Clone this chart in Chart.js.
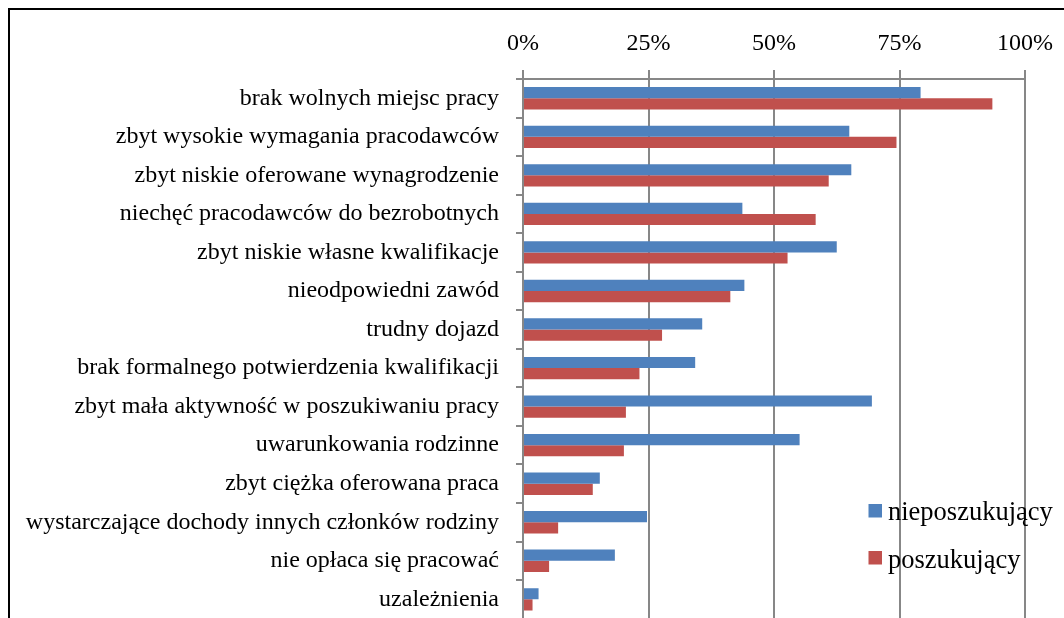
<!DOCTYPE html>
<html>
<head>
<meta charset="utf-8">
<script src="https://cdn.jsdelivr.net/npm/chart.js@4/dist/chart.umd.min.js"></script>
<style>
  html, body { margin: 0; padding: 0; background: #fff; overflow: hidden; width: 1064px; height: 618px; }
  #frame { position: absolute; left: 8px; top: 8px; width: 1060px; height: 700px; border: 2px solid #000; background: #fff; }
  #c { display: block; }
</style>
</head>
<body>
<div id="frame"><canvas id="c" width="1056" height="640"></canvas></div>
<script>
const categories = [
  'brak wolnych miejsc pracy',
  'zbyt wysokie wymagania pracodawców',
  'zbyt niskie oferowane wynagrodzenie',
  'niechęć pracodawców do bezrobotnych',
  'zbyt niskie własne kwalifikacje',
  'nieodpowiedni zawód',
  'trudny dojazd',
  'brak formalnego potwierdzenia kwalifikacji',
  'zbyt mała aktywność w poszukiwaniu pracy',
  'uwarunkowania rodzinne',
  'zbyt ciężka oferowana praca',
  'wystarczające dochody innych członków rodziny',
  'nie opłaca się pracować',
  'uzależnienia'
];
const nieposzukujacy = [79.2, 65.0, 65.4, 43.7, 62.5, 44.1, 35.7, 34.3, 69.5, 55.1, 15.3, 24.7, 18.3, 3.1];
const poszukujacy   = [93.5, 74.4, 60.9, 58.3, 52.7, 41.3, 27.7, 23.2, 20.5, 20.1, 13.9, 7.0, 5.2, 1.9];
const seriesNames = ['nieposzukujący', 'poszukujący'];
const tickValues = [0, 25, 50, 75, 100];

const FONT = '"Liberation Serif", "Times New Roman", serif';
const GRID = '#878787';

const legendPlugin = {
  id: 'customLegend',
  afterDatasetsDraw(chart) {
    const ctx = chart.ctx;
    ctx.save();
    ctx.font = '26.5px ' + FONT;
    ctx.textBaseline = 'alphabetic';
    ctx.textAlign = 'left';
    const rows = [{ sq: 494, base: 510 }, { sq: 541, base: 557.5 }];
    chart.data.datasets.forEach((ds, i) => {
      const r = rows[i];
      ctx.fillStyle = ds.backgroundColor;
      ctx.fillRect(858.5, r.sq, 13.5, 13.5);
      ctx.fillStyle = '#000';
      ctx.fillText(ds.label, 878, r.base);
    });
    ctx.restore();
  }
};

new Chart(document.getElementById('c'), {
  type: 'bar',
  data: {
    labels: categories,
    datasets: [
      { label: seriesNames[0], data: nieposzukujacy, backgroundColor: '#4F81BD', borderWidth: 0 },
      { label: seriesNames[1], data: poszukujacy, backgroundColor: '#C0504D', borderWidth: 0 }
    ]
  },
  options: {
    indexAxis: 'y',
    responsive: false,
    animation: false,
    maintainAspectRatio: false,
    layout: { padding: { left: 0, right: 41, top: 0, bottom: 25 } },
    datasets: { bar: { categoryPercentage: 0.58, barPercentage: 1.0 } },
    plugins: { legend: { display: false }, tooltip: { enabled: false } },
    scales: {
      x: {
        position: 'top',
        min: 0, max: 100,
        afterFit(s) { s.height = 69; },
        afterBuildTicks(s) { s.ticks = tickValues.map(v => ({ value: v })); },
        ticks: { callback: v => v + '%', font: { family: FONT, size: 24 }, color: '#000', padding: 12, maxRotation: 0 },
        grid: { color: GRID, lineWidth: 2, tickLength: 9, drawOnChartArea: true },
        border: { display: true, color: GRID, width: 2 }
      },
      y: {
        afterFit(s) { s.width = 513; },
        ticks: { font: { family: FONT, size: 24 }, color: '#000', padding: 17, autoSkip: false },
        grid: { color: GRID, lineWidth: 2, tickLength: 7, drawOnChartArea: false, offset: true },
        border: { display: true, color: GRID, width: 2 }
      }
    }
  },
  plugins: [legendPlugin]
});
</script>
</body>
</html>
